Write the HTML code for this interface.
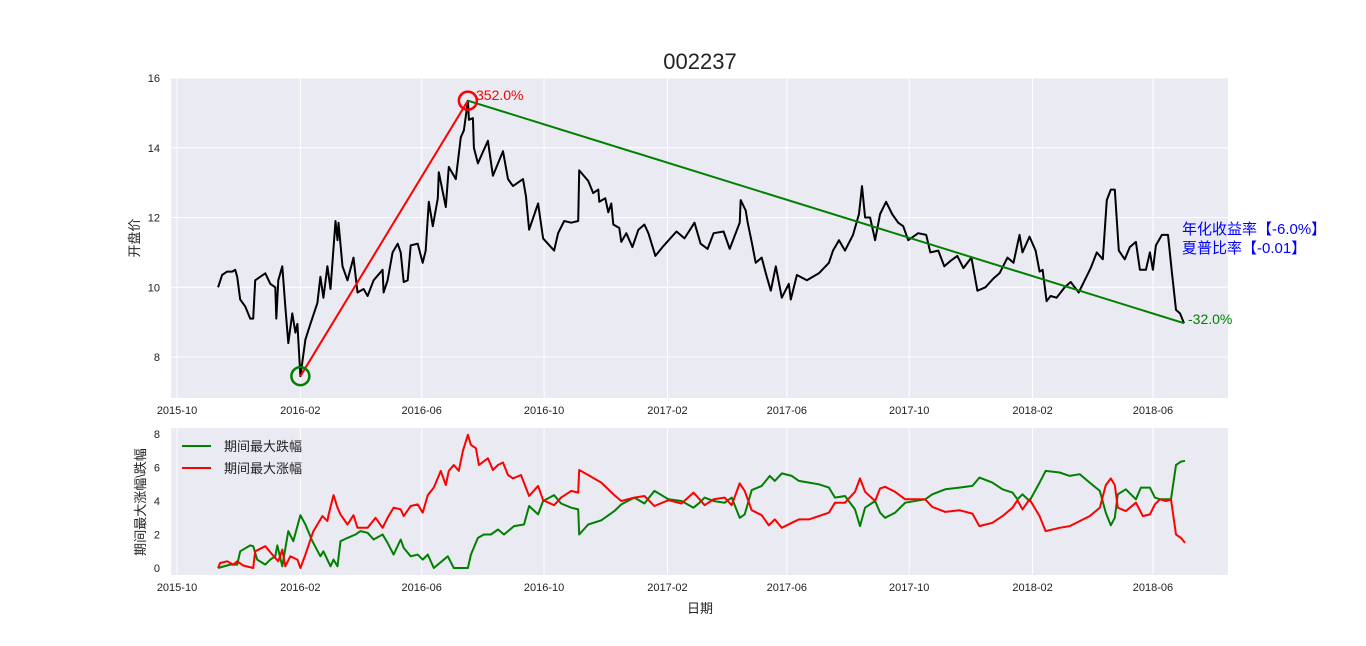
<!DOCTYPE html>
<html><head><meta charset="utf-8">
<style>
html,body{margin:0;padding:0;background:#fff;}
svg{display:block;font-family:"Liberation Sans","Noto Sans CJK SC",sans-serif;}
</style></head>
<body>
<svg id="chart" width="1366" height="646" viewBox="0 0 1366 646" xmlns="http://www.w3.org/2000/svg">
<text x="700" y="69" font-size="22" text-anchor="middle" fill="#222">002237</text>
<rect x="171" y="78" width="1057" height="320" fill="#eaeaf2"/>
<rect x="171" y="428" width="1057" height="147" fill="#eaeaf2"/>
<g id="grid"></g>
<g id="marks"></g>
<text transform="translate(139,238) rotate(-90)" font-size="13" text-anchor="middle" fill="#222">开盘价</text>
<text transform="translate(145,502) rotate(-90)" font-size="13" text-anchor="middle" fill="#222">期间最大涨幅\跌幅</text>
<text x="700" y="613" font-size="13" text-anchor="middle" fill="#222">日期</text>
<text x="476" y="100" font-size="14" fill="#ff0000">352.0%</text>
<text x="1188" y="324" font-size="14" fill="#008000">-32.0%</text>
<text x="1182" y="234" font-size="15" fill="#0000ff">年化收益率【-6.0%】</text>
<text x="1182" y="253" font-size="15" fill="#0000ff">夏普比率【-0.01】</text>
<g>
<line x1="182" y1="446" x2="211" y2="446" stroke="#008000" stroke-width="2"/>
<text x="224" y="451" font-size="13" fill="#222">期间最大跌幅</text>
<line x1="182" y1="468" x2="211" y2="468" stroke="#ff0000" stroke-width="2"/>
<text x="224" y="473" font-size="13" fill="#222">期间最大涨幅</text>
</g>
</svg>
<script>
// x data: day offsets from 2015-10-01
const xTickLabels = ["2015-10","2016-02","2016-06","2016-10","2017-02","2017-06","2017-10","2018-02","2018-06"];
const xTickDays = [0,123,244,366,489,608,730,853,973];
const priceTicks = [8,10,12,14,16];
const rangeTicks = [0,2,4,6,8];
const priceDays = [41,45,50,55,58,60,63,68,73,76,78,83,88,93,98,99,101,105,108,111,115,118,120,123,128,133,140,143,146,150,153,158,160,161,165,170,176,180,186,190,196,205,206,210,215,220,223,226,230,233,240,245,248,251,255,260,261,268,271,278,283,286,290,291,295,296,300,303,310,315,320,325,330,335,345,348,351,360,365,376,380,386,393,400,401,410,415,420,421,427,430,433,435,441,443,448,454,460,466,470,477,484,498,506,516,522,529,535,545,551,561,562,567,569,573,577,583,587,592,597,603,610,612,618,628,640,650,654,660,666,674,680,683,686,691,696,701,707,713,719,724,729,739,747,751,759,765,771,778,784,792,798,806,814,820,828,834,840,843,850,856,860,863,867,871,877,885,891,899,905,911,917,923,927,931,935,939,945,950,956,960,966,970,973,976,982,988,992,996,1000,1004];
const priceValues = [10.0,10.35,10.45,10.45,10.5,10.3,9.65,9.45,9.1,9.1,10.2,10.3,10.4,10.1,10.0,9.1,10.2,10.6,9.45,8.4,9.25,8.7,8.95,7.45,8.5,8.95,9.55,10.3,9.7,10.6,9.95,11.9,11.35,11.85,10.6,10.2,10.85,9.85,9.95,9.75,10.2,10.5,9.85,10.2,11.0,11.25,11.0,10.15,10.2,11.2,11.25,10.7,11.05,12.45,11.75,12.55,13.3,12.3,13.45,13.1,14.3,14.5,15.35,14.8,14.85,14.0,13.55,13.75,14.2,13.2,13.55,13.9,13.1,12.9,13.1,12.6,11.65,12.4,11.4,11.05,11.55,11.9,11.85,11.9,13.35,13.05,12.7,12.8,12.45,12.55,12.15,12.4,11.8,11.7,11.3,11.55,11.15,11.65,11.8,11.55,10.9,11.15,11.6,11.4,11.85,11.25,11.1,11.55,11.6,11.1,11.85,12.5,12.2,11.85,11.3,10.7,10.85,10.4,9.9,10.6,9.7,10.1,9.65,10.35,10.2,10.4,10.7,11.05,11.35,11.05,11.5,12.1,12.9,12.0,12.0,11.35,12.1,12.45,12.1,11.85,11.75,11.35,11.55,11.5,11.0,11.05,10.6,10.75,10.9,10.55,10.85,9.9,10.0,10.25,10.4,10.85,10.7,11.5,11.0,11.45,11.05,10.45,10.5,9.6,9.75,9.7,10.0,10.15,9.85,10.2,10.55,11.0,10.8,12.5,12.8,12.8,11.05,10.8,11.15,11.3,10.5,10.5,11.0,10.5,11.2,11.5,11.5,10.4,9.35,9.25,8.97];
const gainDays = [41,43,50,56,60,66,76,78,88,95,101,105,108,113,120,123,128,136,140,145,150,151,156,160,163,170,176,180,190,198,205,210,216,223,226,233,240,245,250,256,263,268,271,276,281,285,290,293,298,301,310,315,320,325,330,335,343,351,360,365,376,383,393,400,401,410,423,436,443,456,466,476,490,503,515,521,526,535,546,553,561,566,573,583,590,596,603,613,620,630,640,650,656,666,676,681,686,696,701,706,716,726,746,753,766,780,793,800,813,823,833,838,843,850,860,866,880,890,900,910,920,926,931,935,938,946,956,963,970,975,980,986,991,996,1001,1005];
const gainValues = [0,0.3,0.4,0.2,0.4,0.15,0,1.0,1.3,0.8,0.4,1.1,0.1,0.7,0.5,0,0.8,2.2,2.6,3.1,2.8,3.15,4.35,3.6,3.2,2.6,3.15,2.4,2.4,3.0,2.4,3.0,3.6,3.5,3.1,3.7,3.8,3.3,4.35,4.8,5.8,4.95,5.8,6.15,5.8,7.0,7.95,7.35,7.15,6.15,6.55,5.85,6.15,6.3,5.55,5.35,5.55,4.3,4.9,4.05,3.75,4.2,4.6,4.5,5.85,5.55,5.1,4.35,4.0,4.2,4.3,3.7,4.05,3.85,4.5,4.1,3.75,4.1,4.2,3.75,5.05,4.6,3.45,3.15,2.55,2.9,2.4,2.7,2.9,2.9,3.1,3.3,3.9,3.9,4.55,5.35,4.55,4.0,4.75,4.85,4.55,4.1,4.1,3.65,3.35,3.45,3.25,2.5,2.7,3.1,3.6,4.05,3.5,4.1,3.1,2.2,2.4,2.5,2.8,3.1,3.6,4.95,5.35,4.95,3.6,3.4,3.9,3.1,3.2,3.8,4.1,4.0,4.1,2.0,1.8,1.5];
const dropDays = [41,53,60,63,73,76,80,88,93,98,100,105,111,116,123,128,135,143,146,153,156,160,163,170,178,183,190,196,205,210,216,223,226,233,240,245,250,256,270,276,290,293,300,306,313,320,326,336,346,351,360,365,376,383,393,400,401,410,423,436,443,456,466,476,490,503,515,521,526,535,546,553,561,566,573,583,591,596,603,613,620,630,640,650,656,666,676,681,686,696,701,706,716,726,746,753,766,780,793,800,813,823,833,838,843,850,860,866,880,890,900,910,920,926,931,935,938,946,956,961,970,975,980,986,991,996,1001,1005];
const dropValues = [0,0.2,0.2,1.0,1.35,1.3,0.5,0.2,0.5,0.7,1.35,0.1,2.2,1.6,3.15,2.6,1.6,0.7,1.0,0.1,0.5,0.1,1.6,1.8,2.0,2.2,2.1,1.7,2.0,1.5,0.8,1.7,1.2,0.7,0.8,0.5,0.8,0,0.7,0,0,0.8,1.8,2.0,2.0,2.3,2.0,2.5,2.6,3.7,3.2,4.0,4.35,3.85,3.6,3.5,2.0,2.6,2.85,3.4,3.8,4.2,3.85,4.6,4.1,4.0,3.6,3.9,4.2,4.0,3.9,4.2,3.0,3.2,4.65,4.9,5.5,5.2,5.65,5.5,5.2,5.1,5.0,4.8,4.2,4.3,3.5,2.5,3.6,4.0,3.3,3.0,3.3,3.9,4.1,4.4,4.7,4.8,4.9,5.4,5.1,4.7,4.5,4.1,4.4,4.0,5.1,5.8,5.7,5.5,5.6,5.1,4.6,3.3,2.55,3.0,4.4,4.7,4.1,4.8,4.8,4.2,4.1,4.1,4.1,6.15,6.35,6.4];

const X0=177, PXD=1.003;
function xs(d){return X0+d*PXD;}
function yp(v){return 357-(v-8)*(357-78)/8;}
function yr(v){return 568-v*(568-434)/8;}
const NS="http://www.w3.org/2000/svg";
const grid=document.getElementById('grid'), marks=document.getElementById('marks'), svg=document.getElementById('chart');
function mk(tag,attrs,parent){const e=document.createElementNS(NS,tag);for(const k in attrs)e.setAttribute(k,attrs[k]);parent.appendChild(e);return e;}

xTickDays.forEach((d,i)=>{
  const x=xs(d);
  const g1=mk('line',{x1:x,x2:x,y1:78,y2:398,stroke:'#fff','stroke-width':1},grid);
  
  
  const g2=mk('line',{x1:x,x2:x,y1:428,y2:575,stroke:'#fff','stroke-width':1},grid);
  
  
  [414,591].forEach((ty,j)=>{
    const t=mk('text',{x:x,y:ty,'font-size':11,'text-anchor':'middle',fill:'#222'},svg);
    t.textContent=xTickLabels[i];
    
    
  });
});
priceTicks.forEach(v=>{
  const y=yp(v);
  const l=mk('line',{x1:171,x2:1228,y1:y,y2:y,stroke:'#fff','stroke-width':1},grid);
  
  
  const t=mk('text',{x:160,y:y+4,'font-size':11,'text-anchor':'end',fill:'#222'},svg);
  t.textContent=v;
  
  
});
rangeTicks.forEach(v=>{
  const y=yr(v);
  const t=mk('text',{x:160,y:y+4,'font-size':11,'text-anchor':'end',fill:'#222'},svg);
  t.textContent=v;
  
  
});

function path(days,vals,yf){
  const n=Math.min(days.length,vals.length);
  let s='';
  for(let i=0;i<n;i++){s+=(i?'L':'M')+xs(days[i]).toFixed(1)+','+yf(vals[i]).toFixed(1);}
  return s;
}
const pl=mk('path',{d:path(priceDays,priceValues,yp),fill:'none',stroke:'#000','stroke-width':2,'stroke-linejoin':'round'},marks);



// min / max markers derived from data
const nP=Math.min(priceDays.length,priceValues.length);
let iMax=0;for(let i=0;i<nP;i++){if(priceValues[i]>priceValues[iMax])iMax=i;}
let iMin=0;for(let i=0;i<iMax;i++){if(priceValues[i]<priceValues[iMin])iMin=i;}
const iEnd=nP-1;
const rl=mk('line',{x1:xs(priceDays[iMin]),y1:yp(priceValues[iMin]),x2:xs(priceDays[iMax]),y2:yp(priceValues[iMax]),stroke:'#ff0000','stroke-width':2},marks);


const gl=mk('line',{x1:xs(priceDays[iMax]),y1:yp(priceValues[iMax]),x2:xs(priceDays[iEnd]),y2:yp(priceValues[iEnd]),stroke:'#008000','stroke-width':2},marks);


const c1=mk('circle',{cx:xs(priceDays[iMin]),cy:yp(priceValues[iMin]),r:9,fill:'none',stroke:'#008000','stroke-width':2.5},marks);


const c2=mk('circle',{cx:xs(priceDays[iMax]),cy:yp(priceValues[iMax]),r:9,fill:'none',stroke:'#ff0000','stroke-width':2.5},marks);



const gline=mk('path',{d:path(dropDays,dropValues,yr),fill:'none',stroke:'#008000','stroke-width':2,'stroke-linejoin':'round'},marks);


const rline=mk('path',{d:path(gainDays,gainValues,yr),fill:'none',stroke:'#ff0000','stroke-width':2,'stroke-linejoin':'round'},marks);


</script>
</body></html>
